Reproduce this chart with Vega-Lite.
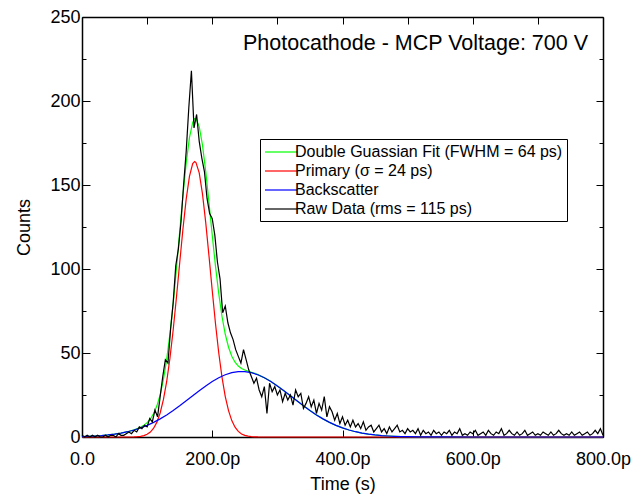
{
  "$schema": "https://vega.github.io/schema/vega-lite/v6.json",
  "width": 521,
  "height": 420,
  "autosize": {"type": "none"},
  "padding": {"left": 82, "top": 17, "right": 30, "bottom": 65},
  "background": "white",
  "config": {
    "view": {"stroke": null},
    "axis": {
      "grid": false,
      "domainColor": "black",
      "domainWidth": 1.5,
      "tickColor": "black",
      "tickWidth": 1,
      "labelFont": "Liberation Sans",
      "labelFontSize": 18,
      "labelColor": "black",
      "titleFont": "Liberation Sans",
      "titleFontSize": 18,
      "titleFontWeight": "normal",
      "titleColor": "black"
    },
    "line": {"strokeWidth": 1.2}
  },
  "datasets": {
    "fits": [
      {"t":0,"v":0.28,"s":"fit"},{"t":10,"v":0.42,"s":"fit"},{"t":20,"v":0.61,"s":"fit"},{"t":30,"v":0.87,"s":"fit"},{"t":40,"v":1.23,"s":"fit"},{"t":50,"v":1.71,"s":"fit"},{"t":60,"v":2.34,"s":"fit"},{"t":70,"v":3.15,"s":"fit"},{"t":80,"v":4.25,"s":"fit"},{"t":85,"v":4.96,"s":"fit"},{"t":90,"v":5.82,"s":"fit"},{"t":95,"v":6.97,"s":"fit"},{"t":100,"v":8.54,"s":"fit"},{"t":105,"v":10.75,"s":"fit"},{"t":110,"v":13.95,"s":"fit"},{"t":115,"v":18.57,"s":"fit"},{"t":120,"v":25.1,"s":"fit"},{"t":125,"v":34.14,"s":"fit"},{"t":130,"v":46.05,"s":"fit"},{"t":135,"v":61.23,"s":"fit"},{"t":140,"v":79.46,"s":"fit"},{"t":145,"v":100.14,"s":"fit"},{"t":150,"v":122.18,"s":"fit"},{"t":155,"v":143.84,"s":"fit"},{"t":160,"v":163.14,"s":"fit"},{"t":165,"v":178.15,"s":"fit"},{"t":170,"v":187.26,"s":"fit"},{"t":173,"v":189.47,"s":"fit"},{"t":175,"v":189.47,"s":"fit"},{"t":180,"v":184.76,"s":"fit"},{"t":185,"v":173.71,"s":"fit"},{"t":190,"v":158.02,"s":"fit"},{"t":195,"v":139.45,"s":"fit"},{"t":200,"v":120.12,"s":"fit"},{"t":205,"v":101.6,"s":"fit"},{"t":210,"v":85.26,"s":"fit"},{"t":215,"v":71.72,"s":"fit"},{"t":220,"v":61.15,"s":"fit"},{"t":225,"v":53.44,"s":"fit"},{"t":230,"v":48.06,"s":"fit"},{"t":235,"v":44.51,"s":"fit"},{"t":240,"v":42.25,"s":"fit"},{"t":245,"v":40.82,"s":"fit"},{"t":250,"v":39.87,"s":"fit"},{"t":255,"v":39.16,"s":"fit"},{"t":260,"v":38.52,"s":"fit"},{"t":265,"v":37.85,"s":"fit"},{"t":270,"v":37.1,"s":"fit"},{"t":280,"v":35.26,"s":"fit"},{"t":290,"v":33.02,"s":"fit"},{"t":300,"v":30.42,"s":"fit"},{"t":310,"v":27.56,"s":"fit"},{"t":320,"v":24.56,"s":"fit"},{"t":330,"v":21.54,"s":"fit"},{"t":340,"v":18.58,"s":"fit"},{"t":350,"v":15.76,"s":"fit"},{"t":360,"v":13.15,"s":"fit"},{"t":370,"v":10.8,"s":"fit"},{"t":380,"v":8.72,"s":"fit"},{"t":390,"v":6.93,"s":"fit"},{"t":400,"v":5.41,"s":"fit"},{"t":410,"v":4.16,"s":"fit"},{"t":420,"v":3.15,"s":"fit"},{"t":430,"v":2.34,"s":"fit"},{"t":440,"v":1.71,"s":"fit"},{"t":450,"v":1.23,"s":"fit"},{"t":460,"v":0.87,"s":"fit"},{"t":470,"v":0.61,"s":"fit"},{"t":480,"v":0.42,"s":"fit"},{"t":490,"v":0.28,"s":"fit"},{"t":500,"v":0.19,"s":"fit"},{"t":520,"v":0.08,"s":"fit"},{"t":550,"v":0.02,"s":"fit"},{"t":600,"v":0,"s":"fit"},{"t":700,"v":0,"s":"fit"},{"t":800,"v":0,"s":"fit"},
      {"t":0,"v":0,"s":"primary"},{"t":60,"v":0,"s":"primary"},{"t":80,"v":0.09,"s":"primary"},{"t":85,"v":0.2,"s":"primary"},{"t":90,"v":0.41,"s":"primary"},{"t":95,"v":0.83,"s":"primary"},{"t":100,"v":1.61,"s":"primary"},{"t":105,"v":2.96,"s":"primary"},{"t":110,"v":5.23,"s":"primary"},{"t":115,"v":8.84,"s":"primary"},{"t":120,"v":14.3,"s":"primary"},{"t":125,"v":22.2,"s":"primary"},{"t":130,"v":32.9,"s":"primary"},{"t":135,"v":46.8,"s":"primary"},{"t":140,"v":63.7,"s":"primary"},{"t":145,"v":83.0,"s":"primary"},{"t":150,"v":103.6,"s":"primary"},{"t":155,"v":123.8,"s":"primary"},{"t":160,"v":141.6,"s":"primary"},{"t":165,"v":155.1,"s":"primary"},{"t":170,"v":162.7,"s":"primary"},{"t":173,"v":164,"s":"primary"},{"t":175,"v":163.4,"s":"primary"},{"t":180,"v":157.2,"s":"primary"},{"t":185,"v":144.7,"s":"primary"},{"t":190,"v":127.6,"s":"primary"},{"t":195,"v":107.7,"s":"primary"},{"t":200,"v":87.1,"s":"primary"},{"t":205,"v":67.4,"s":"primary"},{"t":210,"v":50.0,"s":"primary"},{"t":215,"v":35.5,"s":"primary"},{"t":220,"v":24.1,"s":"primary"},{"t":225,"v":15.7,"s":"primary"},{"t":230,"v":9.77,"s":"primary"},{"t":235,"v":5.83,"s":"primary"},{"t":240,"v":3.33,"s":"primary"},{"t":245,"v":1.82,"s":"primary"},{"t":250,"v":0.95,"s":"primary"},{"t":255,"v":0.48,"s":"primary"},{"t":260,"v":0.23,"s":"primary"},{"t":265,"v":0.11,"s":"primary"},{"t":270,"v":0.05,"s":"primary"},{"t":300,"v":0,"s":"primary"},{"t":800,"v":0,"s":"primary"},
      {"t":0,"v":0.28,"s":"back"},{"t":10,"v":0.42,"s":"back"},{"t":20,"v":0.61,"s":"back"},{"t":30,"v":0.87,"s":"back"},{"t":40,"v":1.23,"s":"back"},{"t":50,"v":1.71,"s":"back"},{"t":60,"v":2.34,"s":"back"},{"t":70,"v":3.15,"s":"back"},{"t":80,"v":4.16,"s":"back"},{"t":90,"v":5.41,"s":"back"},{"t":100,"v":6.93,"s":"back"},{"t":110,"v":8.72,"s":"back"},{"t":120,"v":10.8,"s":"back"},{"t":130,"v":13.15,"s":"back"},{"t":140,"v":15.76,"s":"back"},{"t":150,"v":18.58,"s":"back"},{"t":160,"v":21.54,"s":"back"},{"t":170,"v":24.56,"s":"back"},{"t":180,"v":27.56,"s":"back"},{"t":190,"v":30.42,"s":"back"},{"t":200,"v":33.02,"s":"back"},{"t":210,"v":35.26,"s":"back"},{"t":220,"v":37.05,"s":"back"},{"t":230,"v":38.29,"s":"back"},{"t":240,"v":38.92,"s":"back"},{"t":245,"v":39.0,"s":"back"},{"t":250,"v":38.92,"s":"back"},{"t":260,"v":38.29,"s":"back"},{"t":270,"v":37.05,"s":"back"},{"t":280,"v":35.26,"s":"back"},{"t":290,"v":33.02,"s":"back"},{"t":300,"v":30.42,"s":"back"},{"t":310,"v":27.56,"s":"back"},{"t":320,"v":24.56,"s":"back"},{"t":330,"v":21.54,"s":"back"},{"t":340,"v":18.58,"s":"back"},{"t":350,"v":15.76,"s":"back"},{"t":360,"v":13.15,"s":"back"},{"t":370,"v":10.8,"s":"back"},{"t":380,"v":8.72,"s":"back"},{"t":390,"v":6.93,"s":"back"},{"t":400,"v":5.41,"s":"back"},{"t":410,"v":4.16,"s":"back"},{"t":420,"v":3.15,"s":"back"},{"t":430,"v":2.34,"s":"back"},{"t":440,"v":1.71,"s":"back"},{"t":450,"v":1.23,"s":"back"},{"t":460,"v":0.87,"s":"back"},{"t":470,"v":0.61,"s":"back"},{"t":480,"v":0.42,"s":"back"},{"t":490,"v":0.28,"s":"back"},{"t":500,"v":0.19,"s":"back"},{"t":520,"v":0.08,"s":"back"},{"t":550,"v":0.02,"s":"back"},{"t":600,"v":0,"s":"back"},{"t":700,"v":0,"s":"back"},{"t":800,"v":0,"s":"back"}
    ],
    "raw": [
      {"t":0,"v":1},{"t":4,"v":0},{"t":8,"v":1},{"t":12,"v":0},{"t":16,"v":1},{"t":20,"v":0},{"t":24,"v":1},{"t":28,"v":0},{"t":32,"v":0},{"t":36,"v":1},{"t":40,"v":0},{"t":44,"v":1},{"t":48,"v":1},{"t":52,"v":0},{"t":56,"v":2},{"t":60,"v":1},{"t":64,"v":1},{"t":68,"v":2},{"t":72,"v":3},{"t":76,"v":2},{"t":80,"v":4},{"t":84,"v":3},{"t":88,"v":6},{"t":92,"v":5},{"t":96,"v":7},{"t":100,"v":6},{"t":104,"v":11},{"t":108,"v":9},{"t":112,"v":16},{"t":116,"v":12},{"t":120,"v":24},{"t":124,"v":36},{"t":128,"v":46},{"t":132,"v":44},{"t":136,"v":64},{"t":140,"v":80},{"t":144,"v":102},{"t":148,"v":112},{"t":152,"v":128},{"t":156,"v":150},{"t":160,"v":170},{"t":164,"v":196},{"t":168,"v":218},{"t":172,"v":184},{"t":176,"v":192},{"t":180,"v":176},{"t":184,"v":166},{"t":188,"v":158},{"t":192,"v":142},{"t":196,"v":133},{"t":200,"v":130},{"t":204,"v":120},{"t":208,"v":104},{"t":212,"v":94},{"t":216,"v":74},{"t":220,"v":78},{"t":224,"v":68},{"t":228,"v":62},{"t":232,"v":58},{"t":236,"v":52},{"t":240,"v":48},{"t":244,"v":44},{"t":248,"v":52},{"t":252,"v":46},{"t":256,"v":40},{"t":260,"v":36},{"t":264,"v":32},{"t":268,"v":35},{"t":272,"v":28},{"t":276,"v":24},{"t":280,"v":30},{"t":284,"v":14},{"t":288,"v":32},{"t":292,"v":27},{"t":296,"v":30},{"t":300,"v":25},{"t":304,"v":28},{"t":308,"v":21},{"t":312,"v":26},{"t":316,"v":22},{"t":320,"v":25},{"t":324,"v":19},{"t":328,"v":28},{"t":332,"v":24},{"t":336,"v":26},{"t":340,"v":17},{"t":344,"v":20},{"t":348,"v":24},{"t":352,"v":18},{"t":356,"v":22},{"t":360,"v":14},{"t":364,"v":20},{"t":368,"v":16},{"t":372,"v":24},{"t":376,"v":12},{"t":380,"v":18},{"t":384,"v":15},{"t":388,"v":10},{"t":392,"v":14},{"t":396,"v":8},{"t":400,"v":12},{"t":404,"v":7},{"t":408,"v":10},{"t":412,"v":6},{"t":416,"v":10},{"t":420,"v":6},{"t":424,"v":8},{"t":428,"v":5},{"t":432,"v":9},{"t":436,"v":4},{"t":440,"v":6},{"t":444,"v":7},{"t":448,"v":3},{"t":452,"v":5},{"t":456,"v":7},{"t":460,"v":3},{"t":464,"v":5},{"t":468,"v":2},{"t":472,"v":6},{"t":476,"v":3},{"t":480,"v":5},{"t":484,"v":7},{"t":488,"v":3},{"t":492,"v":4},{"t":496,"v":2},{"t":500,"v":5},{"t":504,"v":3},{"t":508,"v":4},{"t":512,"v":2},{"t":516,"v":5},{"t":520,"v":1},{"t":524,"v":4},{"t":528,"v":2},{"t":532,"v":3},{"t":536,"v":1},{"t":540,"v":4},{"t":544,"v":2},{"t":548,"v":3},{"t":552,"v":1},{"t":556,"v":3},{"t":560,"v":2},{"t":564,"v":4},{"t":568,"v":1},{"t":572,"v":3},{"t":576,"v":2},{"t":580,"v":5},{"t":584,"v":1},{"t":588,"v":2},{"t":592,"v":1},{"t":596,"v":3},{"t":600,"v":2},{"t":604,"v":4},{"t":608,"v":1},{"t":612,"v":2},{"t":616,"v":3},{"t":620,"v":1},{"t":624,"v":4},{"t":628,"v":2},{"t":632,"v":1},{"t":636,"v":3},{"t":640,"v":2},{"t":644,"v":5},{"t":648,"v":1},{"t":652,"v":2},{"t":656,"v":4},{"t":660,"v":2},{"t":664,"v":1},{"t":668,"v":3},{"t":672,"v":1},{"t":676,"v":2},{"t":680,"v":4},{"t":684,"v":1},{"t":688,"v":2},{"t":692,"v":3},{"t":696,"v":1},{"t":700,"v":2},{"t":704,"v":1},{"t":708,"v":3},{"t":712,"v":2},{"t":716,"v":1},{"t":720,"v":3},{"t":724,"v":1},{"t":728,"v":2},{"t":732,"v":4},{"t":736,"v":2},{"t":740,"v":1},{"t":744,"v":2},{"t":748,"v":1},{"t":752,"v":3},{"t":756,"v":1},{"t":760,"v":2},{"t":764,"v":3},{"t":768,"v":1},{"t":772,"v":2},{"t":776,"v":3},{"t":780,"v":1},{"t":784,"v":2},{"t":788,"v":4},{"t":792,"v":2},{"t":796,"v":5},{"t":800,"v":1}
    ]
  },
  "resolve": {"axis": {"x": "independent", "y": "independent"}},
  "layer": [
    {
      "data": {"name": "fits"},
      "transform": [{"filter": "datum.s == 'fit'"}],
      "mark": {"type": "line", "strokeWidth": 1.2},
      "encoding": {
        "x": {"field": "t", "type": "quantitative", "scale": {"domain": [0, 800], "nice": false},
          "axis": {"orient": "bottom", "values": [0, 200, 400, 600, 800], "tickSize": -7, "labelPadding": 20, "title": "Time (s)", "titlePadding": 7,
            "labelExpr": "datum.value == 0 ? '0.0' : format(datum.value, '.1f') + 'p'", "labelFlush": false}},
        "y": {"field": "v", "type": "quantitative", "scale": {"domain": [0, 250], "nice": false},
          "axis": {"orient": "left", "values": [0, 50, 100, 150, 200, 250], "tickSize": -8, "labelPadding": 10, "title": "Counts", "titlePadding": 16, "labelFlush": false}},
        "color": {"field": "s", "type": "nominal",
          "scale": {"domain": ["fit", "primary", "back", "raw"], "range": ["#00ff00", "#ff0000", "#0000ff", "#000000"]},
          "legend": {
            "orient": "none", "legendX": 178, "legendY": 122, "title": null,
            "strokeColor": "black", "fillColor": "white", "padding": 4, "symbolOffset": 8,
            "symbolType": "M-2,0H2", "symbolSize": 256, "symbolStrokeWidth": 1.5,
            "labelFont": "Liberation Sans", "labelFontSize": 16, "labelColor": "black", "labelOffset": 5, "rowPadding": 2,
            "labelLimit": 400,
            "labelExpr": "datum.label == 'fit' ? 'Double Guassian Fit (FWHM = 64 ps)' : datum.label == 'primary' ? 'Primary (σ = 24 ps)' : datum.label == 'back' ? 'Backscatter' : 'Raw Data (rms = 115 ps)'"
          }}
      }
    },
    {
      "data": {"name": "fits"},
      "transform": [{"filter": "datum.s == 'primary'"}],
      "mark": {"type": "line", "strokeWidth": 1.2},
      "encoding": {
        "x": {"field": "t", "type": "quantitative", "scale": {"domain": [0, 800], "nice": false},
          "axis": {"orient": "top", "values": [0, 100, 200, 300, 400, 500, 600, 700, 800], "tickSize": -7, "labels": false, "title": null}},
        "y": {"field": "v", "type": "quantitative", "scale": {"domain": [0, 250], "nice": false},
          "axis": {"orient": "right", "values": [0, 50, 100, 150, 200, 250], "tickSize": -7, "labels": false, "title": null}},
        "color": {"field": "s", "type": "nominal"}
      }
    },
    {
      "data": {"name": "fits"},
      "transform": [{"filter": "datum.s == 'back'"}],
      "mark": {"type": "line", "strokeWidth": 1.2},
      "encoding": {
        "x": {"field": "t", "type": "quantitative", "scale": {"domain": [0, 800], "nice": false}, "axis": null},
        "y": {"field": "v", "type": "quantitative", "scale": {"domain": [0, 250], "nice": false},
          "axis": {"orient": "left", "values": [25, 75, 125, 175, 225], "tickSize": -4, "labels": false, "domain": false, "title": null}},
        "color": {"field": "s", "type": "nominal"}
      }
    },
    {
      "data": {"name": "raw"},
      "transform": [{"calculate": "'raw'", "as": "s"}],
      "mark": {"type": "line", "strokeWidth": 1.2},
      "encoding": {
        "x": {"field": "t", "type": "quantitative", "scale": {"domain": [0, 800], "nice": false}, "axis": null},
        "y": {"field": "v", "type": "quantitative", "scale": {"domain": [0, 250], "nice": false},
          "axis": {"orient": "right", "values": [25, 75, 125, 175, 225], "tickSize": -4, "labels": false, "domain": false, "title": null}},
        "color": {"field": "s", "type": "nominal"}
      }
    },
    {
      "data": {"values": [{"label": "Photocathode - MCP Voltage: 700 V"}]},
      "mark": {"type": "text", "align": "right", "baseline": "alphabetic", "font": "Liberation Sans", "fontSize": 21.5, "color": "black"},
      "encoding": {
        "x": {"datum": 777, "type": "quantitative", "scale": {"domain": [0, 800], "nice": false}, "axis": null},
        "y": {"datum": 230.5, "type": "quantitative", "scale": {"domain": [0, 250], "nice": false}, "axis": null},
        "text": {"field": "label"}
      }
    }
  ]
}
